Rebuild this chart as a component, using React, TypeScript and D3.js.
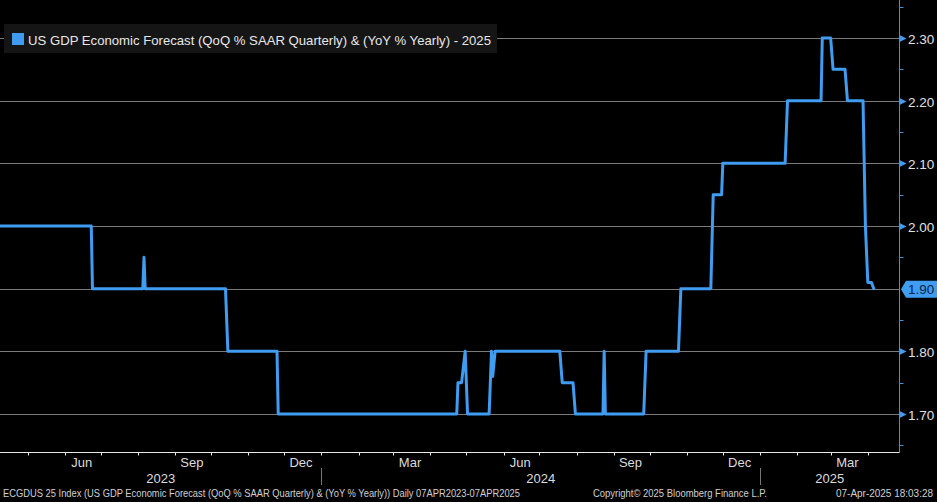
import React from "react";
import * as d3 from "d3";

const W = 937;
const H = 502;

const dates: string[] = [
  "2023-04-07", "2023-06-23", "2023-06-24", "2023-08-05", "2023-08-06", "2023-08-07",
  "2023-10-13", "2023-10-15", "2023-11-25", "2023-11-26",
  "2024-04-23", "2024-04-24", "2024-04-27", "2024-04-30", "2024-05-02",
  "2024-05-20", "2024-05-22", "2024-05-23", "2024-05-25",
  "2024-07-18", "2024-07-20", "2024-07-29", "2024-07-31",
  "2024-08-23", "2024-08-24", "2024-08-25",
  "2024-09-26", "2024-09-28", "2024-10-25", "2024-10-27",
  "2024-11-21", "2024-11-23", "2024-11-30", "2024-12-01",
  "2025-01-22", "2025-01-24", "2025-02-21", "2025-02-22",
  "2025-03-01", "2025-03-03", "2025-03-13", "2025-03-15",
  "2025-03-28", "2025-03-30", "2025-04-01", "2025-04-04", "2025-04-06",
];
const values: number[] = [
  2.0, 2.0, 1.9, 1.9, 1.95, 1.9,
  1.9, 1.8, 1.8, 1.7,
  1.7, 1.75, 1.75, 1.8, 1.7,
  1.7, 1.8, 1.76, 1.8,
  1.8, 1.75, 1.75, 1.7,
  1.7, 1.8, 1.7,
  1.7, 1.8, 1.8, 1.9,
  1.9, 2.05, 2.05, 2.1,
  2.1, 2.2, 2.2, 2.3,
  2.3, 2.25, 2.25, 2.2,
  2.2, 2.0, 1.91, 1.91, 1.9,
];

const yTicks: number[] = [1.7, 1.8, 1.9, 2.0, 2.1, 2.2, 2.3];
const yMinorTicks: number[] = [1.65, 1.75, 1.85, 1.95, 2.05, 2.15, 2.25, 2.35];
const monthLabels: string[] = ["Mar", "Jun", "Sep", "Dec"];
const years: string[] = ["2023", "2024", "2025"];
const lastValueLabel = "1.90";

const legendText = "US GDP Economic Forecast (QoQ % SAAR Quarterly) & (YoY % Yearly) - 2025";
const footerLeft =
  "ECGDUS 25 Index (US GDP Economic Forecast (QoQ % SAAR Quarterly) & (YoY % Yearly)) Daily 07APR2023-07APR2025";
const footerMid = "Copyright\u00A9 2025 Bloomberg Finance L.P.";
const footerRight = "07-Apr-2025 18:03:28";

const BLUE = "#3f9cf0";
const FONT = "'Liberation Sans', Arial, sans-serif";

export default function App() {
  const parse = d3.utcParse("%Y-%m-%d");
  const start = parse("2023-04-07")!;
  const end = parse("2025-04-07")!;
  const axisX = 899.5;
  const axisY = 452.5;

  const x = d3.scaleUtc().domain([start, end]).range([-1, 875]);
  const y = d3.scaleLinear().domain([1.7, 2.3]).range([414, 38]);

  const data = dates.map((d, i) => ({ date: parse(d)!, value: values[i] }));
  const line = d3
    .line<{ date: Date; value: number }>()
    .x((d) => x(d.date))
    .y((d) => y(d.value));

  const monthTicks = d3.utcMonth.range(d3.utcMonth.ceil(start), end);
  const monthNames = d3.utcFormat("%b");
  const labelMonths = monthTicks.filter((m) => monthLabels.includes(monthNames(m)));

  const yearBounds = d3.utcYear.range(d3.utcYear.ceil(start), end);
  const yearSegs = years.map((yr, i) => {
    const x0 = i === 0 ? 0 : x(yearBounds[i - 1]);
    const x1 = i < yearBounds.length ? x(yearBounds[i]) : axisX;
    return { yr, cx: (x0 + x1) / 2 };
  });

  const lastY = y(1.9);

  return (
    <svg
      width={W}
      height={H}
      style={{ position: "absolute", left: 0, top: 0, background: "#000" }}
    >
      <rect x={0} y={0} width={W} height={H} fill="#000" />
      {/* gridlines */}
      {yTicks.map((t) => (
        <line
          key={"g" + t}
          x1={0}
          x2={axisX}
          y1={Math.round(y(t)) + 0.5}
          y2={Math.round(y(t)) + 0.5}
          stroke="#7a7a7a"
          strokeWidth={1}
        />
      ))}
      {/* legend */}
      <rect x={4} y={24} width={493} height={29} fill="#151515" />
      <rect x={12} y={33} width={12} height={12} fill={BLUE} />
      <text
        x={28}
        y={45}
        fill="#e8e8e8"
        fontFamily={FONT}
        fontSize={13.5}
        textLength={463}
        lengthAdjust="spacingAndGlyphs"
      >
        {legendText}
      </text>
      {/* series line */}
      <path
        d={line(data) || ""}
        fill="none"
        stroke={BLUE}
        strokeWidth={3}
        strokeLinejoin="round"
        strokeLinecap="round"
      />
      {/* right axis */}
      <line x1={axisX} x2={axisX} y1={0} y2={axisY} stroke="#4a8fd6" strokeWidth={1} />
      {yMinorTicks.map((t) => (
        <line
          key={"m" + t}
          x1={axisX}
          x2={axisX + 4}
          y1={Math.round(y(t)) + 0.5}
          y2={Math.round(y(t)) + 0.5}
          stroke="#4a8fd6"
          strokeWidth={1}
        />
      ))}
      {yTicks.map((t) => {
        const ty = Math.round(y(t)) + 0.5;
        if (Math.abs(t - 1.9) < 1e-9) return null;
        return (
          <g key={"t" + t}>
            <path
              d={`M${axisX},${ty - 3.5} L${axisX + 7},${ty} L${axisX},${ty + 3.5} Z`}
              fill="#3f9cf0"
            />
            <text
              x={908}
              y={ty + 5}
              fill="#e0e0e0"
              fontFamily={FONT}
              fontSize={13.5}
            >
              {d3.format(".2f")(t)}
            </text>
          </g>
        );
      })}
      {/* last value marker */}
      <path
        d={`M${axisX + 1.5},${lastY + 0.5} L${906},${lastY - 8} L${937},${lastY - 8} L${937},${lastY + 9} L${906},${lastY + 9} Z`}
        fill="#3f9cf0"
      />
      <text
        x={908}
        y={lastY + 5.5}
        fill="#0b2545"
        fontFamily={FONT}
        fontSize={13.5}
      >
        {lastValueLabel}
      </text>
      {/* bottom axis */}
      <line x1={0} x2={axisX} y1={axisY} y2={axisY} stroke="#e6e6e6" strokeWidth={1} />
      {monthTicks.map((m) => (
        <line
          key={"mt" + m.toISOString()}
          x1={Math.round(x(m)) + 0.5}
          x2={Math.round(x(m)) + 0.5}
          y1={axisY}
          y2={axisY + 3}
          stroke="#e6e6e6"
          strokeWidth={1}
        />
      ))}
      {labelMonths.map((m) => {
        const mid = d3.utcDay.offset(m, 14);
        return (
          <text
            key={"ml" + m.toISOString()}
            x={x(mid)}
            y={467}
            textAnchor="middle"
            fill="#dcdcdc"
            fontFamily={FONT}
            fontSize={13}
          >
            {monthNames(m)}
          </text>
        );
      })}
      {yearBounds.map((b) => (
        <line
          key={"yb" + b.toISOString()}
          x1={Math.round(x(b)) + 0.5}
          x2={Math.round(x(b)) + 0.5}
          y1={468}
          y2={485}
          stroke="#777"
          strokeWidth={1}
        />
      ))}
      {yearSegs.map((s) => (
        <text
          key={"y" + s.yr}
          x={s.cx}
          y={483}
          textAnchor="middle"
          fill="#dcdcdc"
          fontFamily={FONT}
          fontSize={13}
        >
          {s.yr}
        </text>
      ))}
      {/* footer */}
      <text
        x={3}
        y={497}
        fill="#d0d0d0"
        fontFamily={FONT}
        fontSize={10.5}
        textLength={517}
        lengthAdjust="spacingAndGlyphs"
      >
        {footerLeft}
      </text>
      <text
        x={593}
        y={497}
        fill="#d0d0d0"
        fontFamily={FONT}
        fontSize={10.5}
        textLength={174}
        lengthAdjust="spacingAndGlyphs"
      >
        {footerMid}
      </text>
      <text
        x={836}
        y={497}
        fill="#d0d0d0"
        fontFamily={FONT}
        fontSize={10.5}
        textLength={97}
        lengthAdjust="spacingAndGlyphs"
      >
        {footerRight}
      </text>
    </svg>
  );
}
